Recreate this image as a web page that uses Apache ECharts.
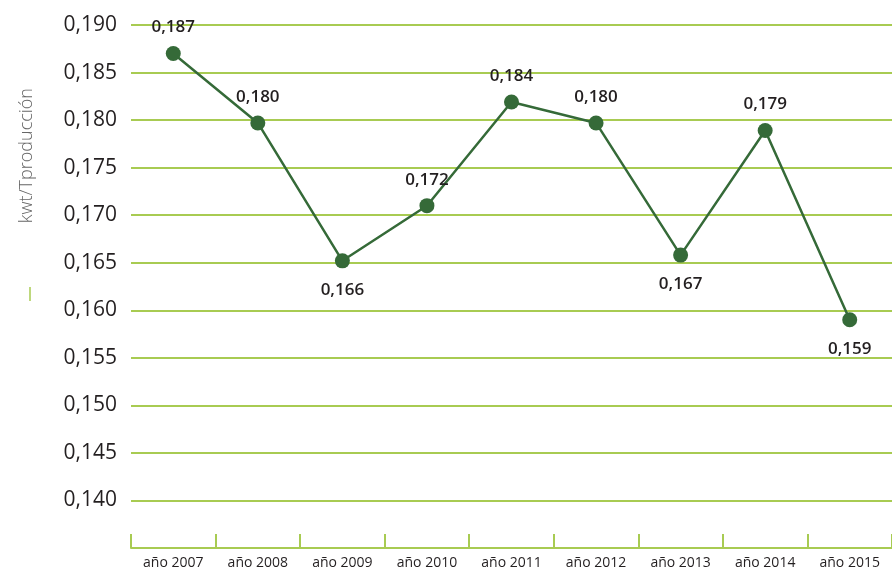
<!DOCTYPE html>
<html>
<head>
<meta charset="utf-8">
<script src="https://cdn.jsdelivr.net/npm/echarts@6/dist/echarts.min.js"></script>
<style>
  html, body { margin: 0; padding: 0; background: #fff; }
  #chart { width: 892px; height: 572px; }
</style>
</head>
<body>
<div id="chart"></div>
<script>
const years = ['año 2007', 'año 2008', 'año 2009', 'año 2010', 'año 2011', 'año 2012', 'año 2013', 'año 2014', 'año 2015'];
// point positions as drawn
const values = [0.1870, 0.1797, 0.1652, 0.1710, 0.1819, 0.1797, 0.1658, 0.1789, 0.1590];
// printed labels
const valueLabels = ['0,187', '0,180', '0,166', '0,172', '0,184', '0,180', '0,167', '0,179', '0,159'];
const labelBelow = [false, false, true, false, false, false, true, false, true];

const chart = echarts.init(document.getElementById('chart'));

const lineColor = '#356a38';
const gridColor = '#a8cb52';

chart.setOption({
  animation: false,
  grid: { left: 131, top: 25, bottom: 24, width: 776 },
  xAxis: {
    type: 'category',
    data: years,
    boundaryGap: true,
    axisLine: { show: true, lineStyle: { color: gridColor, width: 2 } },
    axisTick: { show: true, interval: 0, inside: true, length: 14, lineStyle: { color: gridColor, width: 2 } },
    axisLabel: { color: '#231f20', fontSize: 14, fontFamily: 'Open Sans', margin: 8, interval: 0 },
  },
  yAxis: {
    type: 'value',
    min: 0.135,
    max: 0.190,
    interval: 0.005,
    axisLine: { show: false },
    axisTick: { show: false },
    splitLine: { lineStyle: { color: gridColor, width: 2 } },
    axisLabel: {
      color: '#231f20',
      fontSize: 21,
      fontFamily: 'Open Sans',
      margin: 14,
      formatter: (v) => (v < 0.1375 ? '' : v.toFixed(3).replace('.', ',')),
    },
  },
  graphic: [
    {
      type: 'text',
      left: 18,
      top: 88,
      style: {
        text: 'kwt/Tproducción',
        fill: '#666',
        font: '300 18px "Open Sans"',
      },
      rotation: Math.PI / 2,
    },
    {
      type: 'line',
      shape: { x1: 30, y1: 287, x2: 30, y2: 301 },
      style: { stroke: gridColor, lineWidth: 1.5 },
    },
  ],
  series: [
    {
      type: 'line',
      data: values.map((v, i) => ({
        value: v,
        label: {
          position: labelBelow[i] ? 'bottom' : 'top',
          distance: labelBelow[i] ? 13 : 10,
          formatter: valueLabels[i],
        },
      })),
      symbol: 'circle',
      symbolSize: 15,
      itemStyle: { color: lineColor },
      lineStyle: { color: lineColor, width: 2.5 },
      label: {
        show: true,
        color: '#231f20',
        fontSize: 17,
        fontWeight: 600,
        fontFamily: 'Open Sans',
      },
    },
  ],
});
</script>
</body>
</html>
